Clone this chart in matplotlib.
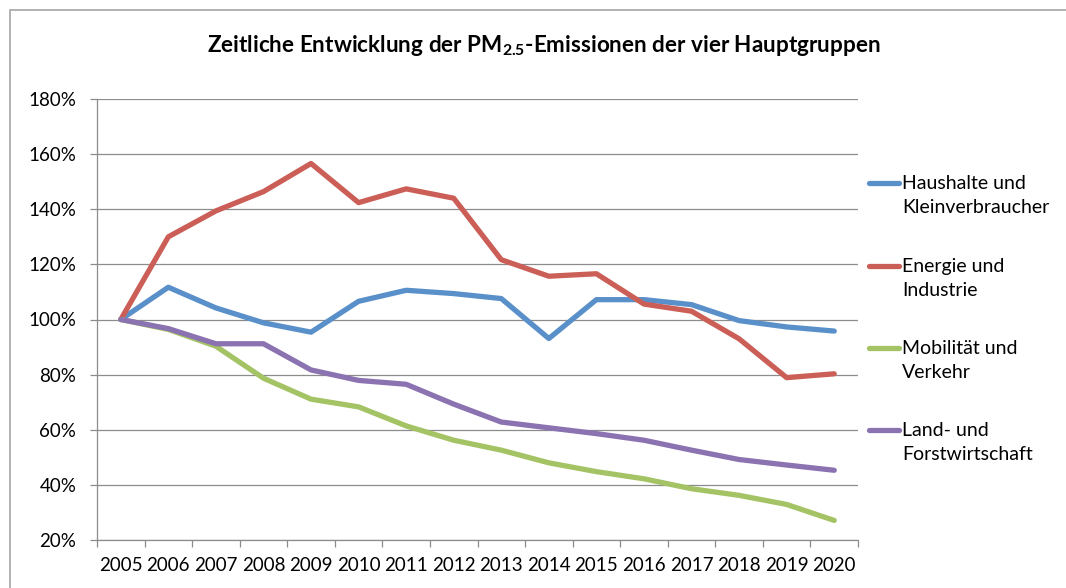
import numpy as np
import matplotlib
matplotlib.use("Agg")
import matplotlib.pyplot as plt
from matplotlib.lines import Line2D
from matplotlib.patches import Rectangle

plt.rcParams["font.family"] = ["Lato", "DejaVu Sans"]
plt.rcParams["mathtext.fontset"] = "custom"
plt.rcParams["mathtext.rm"] = "Lato:weight=bold"
plt.rcParams["mathtext.bf"] = "Lato:weight=bold"

# data (index, 2005 = 100 %)
years = [str(y) for y in range(2005, 2021)]
haushalte = [100, 111.7, 104.2, 98.8, 95.4, 106.6, 110.6, 109.4, 107.6, 93.1,
             107.2, 107.2, 105.4, 99.6, 97.3, 95.8]
energie = [100, 130.0, 139.4, 146.4, 156.6, 142.4, 147.4, 144.0, 121.7, 115.7,
           116.6, 105.6, 103.0, 93.0, 78.9, 80.3]
mobilitaet = [100, 96.4, 90.3, 78.7, 71.1, 68.3, 61.4, 56.2, 52.6, 48.0,
              44.8, 42.2, 38.6, 36.2, 32.9, 27.1]
landwirtschaft = [100, 96.7, 91.2, 91.2, 81.7, 77.9, 76.5, 69.3, 62.8, 60.7,
                  58.6, 56.2, 52.6, 49.2, 47.2, 45.3]

series = [
    ("Haushalte und\nKleinverbraucher", haushalte, "#5A90CA"),
    ("Energie und\nIndustrie", energie, "#CB5F57"),
    ("Mobilität und\nVerkehr", mobilitaet, "#A4C365"),
    ("Land- und\nForstwirtschaft", landwirtschaft, "#8B72B0"),
]
yticks = [20, 40, 60, 80, 100, 120, 140, 160, 180]

W, H = 1066, 588
fig = plt.figure(figsize=(W / 100, H / 100), dpi=100)
ax = fig.add_axes([97 / W, 1 - 540 / H, 761 / W, 441 / H])

x = np.arange(len(years))
for label, vals, color in series:
    ax.plot(x, vals, color=color, lw=3.8, solid_capstyle="round",
            solid_joinstyle="round", zorder=3)

grid_c = "#8C8C8C"
ax.set_xlim(-0.5, len(years) - 0.5)
ax.set_ylim(20, 180)
ax.set_yticks(yticks)
ax.set_yticklabels([f"{v}%" for v in yticks])
ax.yaxis.grid(True, color=grid_c, lw=0.9)
ax.set_axisbelow(True)

ax.set_xticks(x)
ax.set_xticklabels(years)
ax.set_xticks(np.arange(-0.5, len(years)), minor=True)
ax.tick_params(axis="x", which="major", length=0, pad=12, labelsize=13.5,
               colors="black")
ax.tick_params(axis="x", which="minor", length=5, width=0.9, color=grid_c)
ax.tick_params(axis="y", length=5, width=0.9, color=grid_c, pad=10,
               labelsize=13.5)

for s in ["top", "right"]:
    ax.spines[s].set_visible(False)
for s in ["left", "bottom"]:
    ax.spines[s].set_color(grid_c)
    ax.spines[s].set_linewidth(0.9)

fig.text(544 / W, 1 - 45 / H,
         r"Zeitliche Entwicklung der PM$\mathbf{_{2.5}}$-Emissionen der vier Hauptgruppen",
         ha="center", va="center", fontsize=16.2, fontweight="bold")

# legend drawn by hand (label text starts at first line level)
leg_y = [183, 266, 348, 430]
for (label, vals, color), yy in zip(series, leg_y):
    fy = 1 - yy / H
    fig.add_artist(Line2D([869 / W, 899 / W], [fy, fy], color=color, lw=3.8,
                          solid_capstyle="round"))
    fig.text(902 / W, fy + 8 / H, label, ha="left", va="top",
             fontsize=14, linespacing=1.5)

# outer chart frame
fig.add_artist(Rectangle((10 / W, -0.1), 1.2, 1.1 - 10 / H,
                         transform=fig.transFigure, fill=False,
                         edgecolor="#A6A6A6", lw=1.2))

fig.savefig("out.png", dpi=100)
